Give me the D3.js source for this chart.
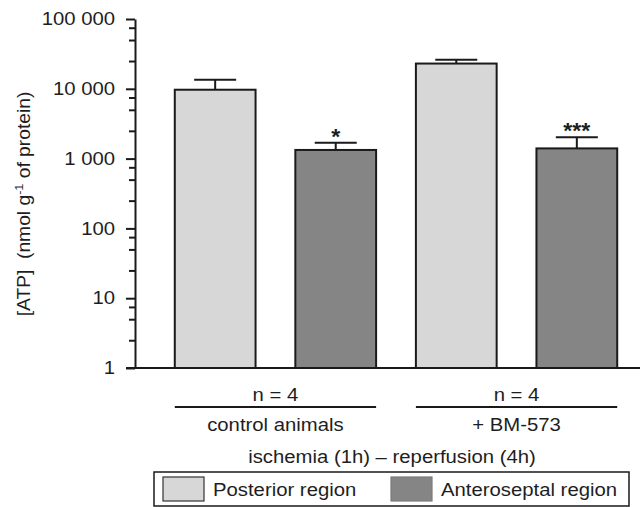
<!DOCTYPE html>
<html>
<head>
<meta charset="utf-8">
<script src="https://cdn.jsdelivr.net/npm/d3@7"></script>
<style>
  html, body { margin: 0; padding: 0; background: #fff; }
  svg { display: block; }
  text { font-family: "Liberation Sans", Arial, sans-serif; fill: #1e1e1e; }
</style>
</head>
<body>
<svg id="chart" width="640" height="507"></svg>
<script>
// ---- data ----
const groups = ["control animals", "+ BM-573"];
const groupN = ["n = 4", "n = 4"];
const series = ["Posterior region", "Anteroseptal region"];
const seriesColors = ["#d7d7d7", "#858585"];
const posterior = [9700, 23000];
const posteriorErr = [3750, 3000];
const anteroseptal = [1330, 1400];
const anteroseptalErr = [360, 620];
const anteroseptalSig = ["*", "***"];
const posteriorSig = ["", ""];
const yTickValues = [1, 10, 100, 1000, 10000, 100000];
const yTickLabels = ["1", "10", "100", "1 000", "10 000", "100 000"];
const yMinorFactors = [2.5, 5, 7.5];
const yTitle = ["[ATP]  (nmol g", "-1", " of protein)"];
const xTitle = "ischemia (1h) \u2013 reperfusion (4h)";

// ---- layout ----
const W = 640, H = 507;
const axisX = 135, baseY = 368, topY = 19;
const FS = 17.5, STRETCH = 1.16;
const ink = "#1a1a1a";

const svg = d3.select("#chart");

function stretch(sel, f) {
  sel.each(function () {
    const len = this.getComputedTextLength();
    d3.select(this).attr("textLength", len * f).attr("lengthAdjust", "spacingAndGlyphs");
  });
}

const rows = [];
groups.forEach((g, gi) => {
  rows.push({ key: g + "|0", g: gi, s: 0, v: posterior[gi], e: posteriorErr[gi], sig: posteriorSig[gi] });
  rows.push({ key: g + "|1", g: gi, s: 1, v: anteroseptal[gi], e: anteroseptalErr[gi], sig: anteroseptalSig[gi] });
});

const x = d3.scaleBand().domain(rows.map(d => d.key)).range([axisX, 657])
  .paddingInner(0.33).paddingOuter(0.33);
const y = d3.scaleLog().domain([1, 100000]).range([baseY, topY]);

// bars
svg.append("g").selectAll("rect").data(rows).join("rect")
  .attr("x", d => x(d.key)).attr("width", x.bandwidth())
  .attr("y", d => y(d.v)).attr("height", d => y(1) - y(d.v))
  .attr("fill", d => seriesColors[d.s])
  .attr("stroke", ink).attr("stroke-width", 2);

// error bars
const capW = x.bandwidth() * 0.52;
const eb = svg.append("g").attr("stroke", ink).attr("stroke-width", 2).attr("fill", "none");
eb.selectAll("path").data(rows).join("path")
  .attr("d", d => {
    const cx = x(d.key) + x.bandwidth() / 2;
    const yt = y(d.v + d.e);
    return `M${cx},${y(d.v)}V${yt}M${cx - capW / 2},${yt}H${cx + capW / 2}`;
  });

// significance stars
svg.append("g").selectAll("text").data(rows.filter(d => d.sig)).join("text")
  .attr("x", d => x(d.key) + x.bandwidth() / 2)
  .attr("y", d => y(d.v + d.e) + 1)
  .attr("text-anchor", "middle")
  .attr("font-size", 22).attr("font-weight", "bold")
  .text(d => d.sig)
  .call(stretch, 1.05);

// y axis (major)
const yAxis = svg.append("g").attr("transform", `translate(${axisX},0)`)
  .call(d3.axisLeft(y).tickValues(yTickValues)
    .tickFormat((d, i) => yTickLabels[i]).tickSize(9).tickSizeOuter(0).tickPadding(11));
yAxis.select(".domain").attr("stroke", ink).attr("stroke-width", 2);
yAxis.selectAll(".tick line").attr("stroke", ink).attr("stroke-width", 2);
yAxis.selectAll(".tick text").attr("font-size", FS).attr("font-family", "Liberation Sans, Arial, sans-serif")
  .attr("fill", "#1e1e1e").call(stretch, STRETCH);

// y axis (minor)
const minorVals = [];
yTickValues.slice(0, -1).forEach(v => yMinorFactors.forEach(f => minorVals.push(v * f)));
const yMinor = svg.append("g").attr("transform", `translate(${axisX},0)`)
  .call(d3.axisLeft(y).tickValues(minorVals).tickFormat("").tickSize(6).tickSizeOuter(0));
yMinor.select(".domain").remove();
yMinor.selectAll(".tick line").attr("stroke", ink).attr("stroke-width", 2);

// baseline
svg.append("line").attr("x1", axisX - 9).attr("x2", W).attr("y1", y(1)).attr("y2", y(1))
  .attr("stroke", ink).attr("stroke-width", 2);

// y title
const tg = svg.append("g").attr("transform", `translate(30,204) rotate(-90) scale(1.1,1)`);
const tt = tg.append("text").attr("text-anchor", "middle").attr("font-size", FS).style("white-space", "pre");
tt.append("tspan").text(yTitle[0]);
tt.append("tspan").attr("font-size", 11.5).attr("dy", -7).text(yTitle[1]);
tt.append("tspan").attr("dy", 7).text(yTitle[2]);

// group annotations
const gsel = svg.append("g").selectAll("g").data(groups).join("g");
gsel.each(function (g, gi) {
  const x0 = x(g + "|0"), x1 = x(g + "|1") + x.bandwidth();
  const cx = (x0 + x1) / 2;
  const sel = d3.select(this);
  sel.append("text").attr("x", cx).attr("y", 401).attr("text-anchor", "middle")
    .attr("font-size", FS).text(groupN[gi]).call(stretch, STRETCH);
  sel.append("line").attr("x1", x0).attr("x2", x1).attr("y1", 407).attr("y2", 407)
    .attr("stroke", ink).attr("stroke-width", 2);
  sel.append("text").attr("x", cx).attr("y", 431).attr("text-anchor", "middle")
    .attr("font-size", FS).text(g).call(stretch, STRETCH);
});

// x title
const allL = x(rows[0].key), allR = x(rows[rows.length - 1].key) + x.bandwidth();
svg.append("text").attr("x", (allL + allR) / 2 - 4).attr("y", 463).attr("text-anchor", "middle")
  .attr("font-size", FS).text(xTitle).call(stretch, STRETCH);

// legend
const lg = svg.append("g");
lg.append("rect").attr("x", 154).attr("y", 472).attr("width", 475).attr("height", 34)
  .attr("fill", "#fff").attr("stroke", ink).attr("stroke-width", 1.5);
const legX = [163, 391];
series.forEach((s, i) => {
  lg.append("rect").attr("x", legX[i]).attr("y", 477).attr("width", 41).attr("height", 24)
    .attr("fill", seriesColors[i]).attr("stroke", i === 0 ? "#333" : "#7a7a7a").attr("stroke-width", 1.2);
  lg.append("text").attr("x", legX[i] + 50).attr("y", 496).attr("font-size", FS)
    .text(s).call(stretch, STRETCH);
});
</script>
</body>
</html>
